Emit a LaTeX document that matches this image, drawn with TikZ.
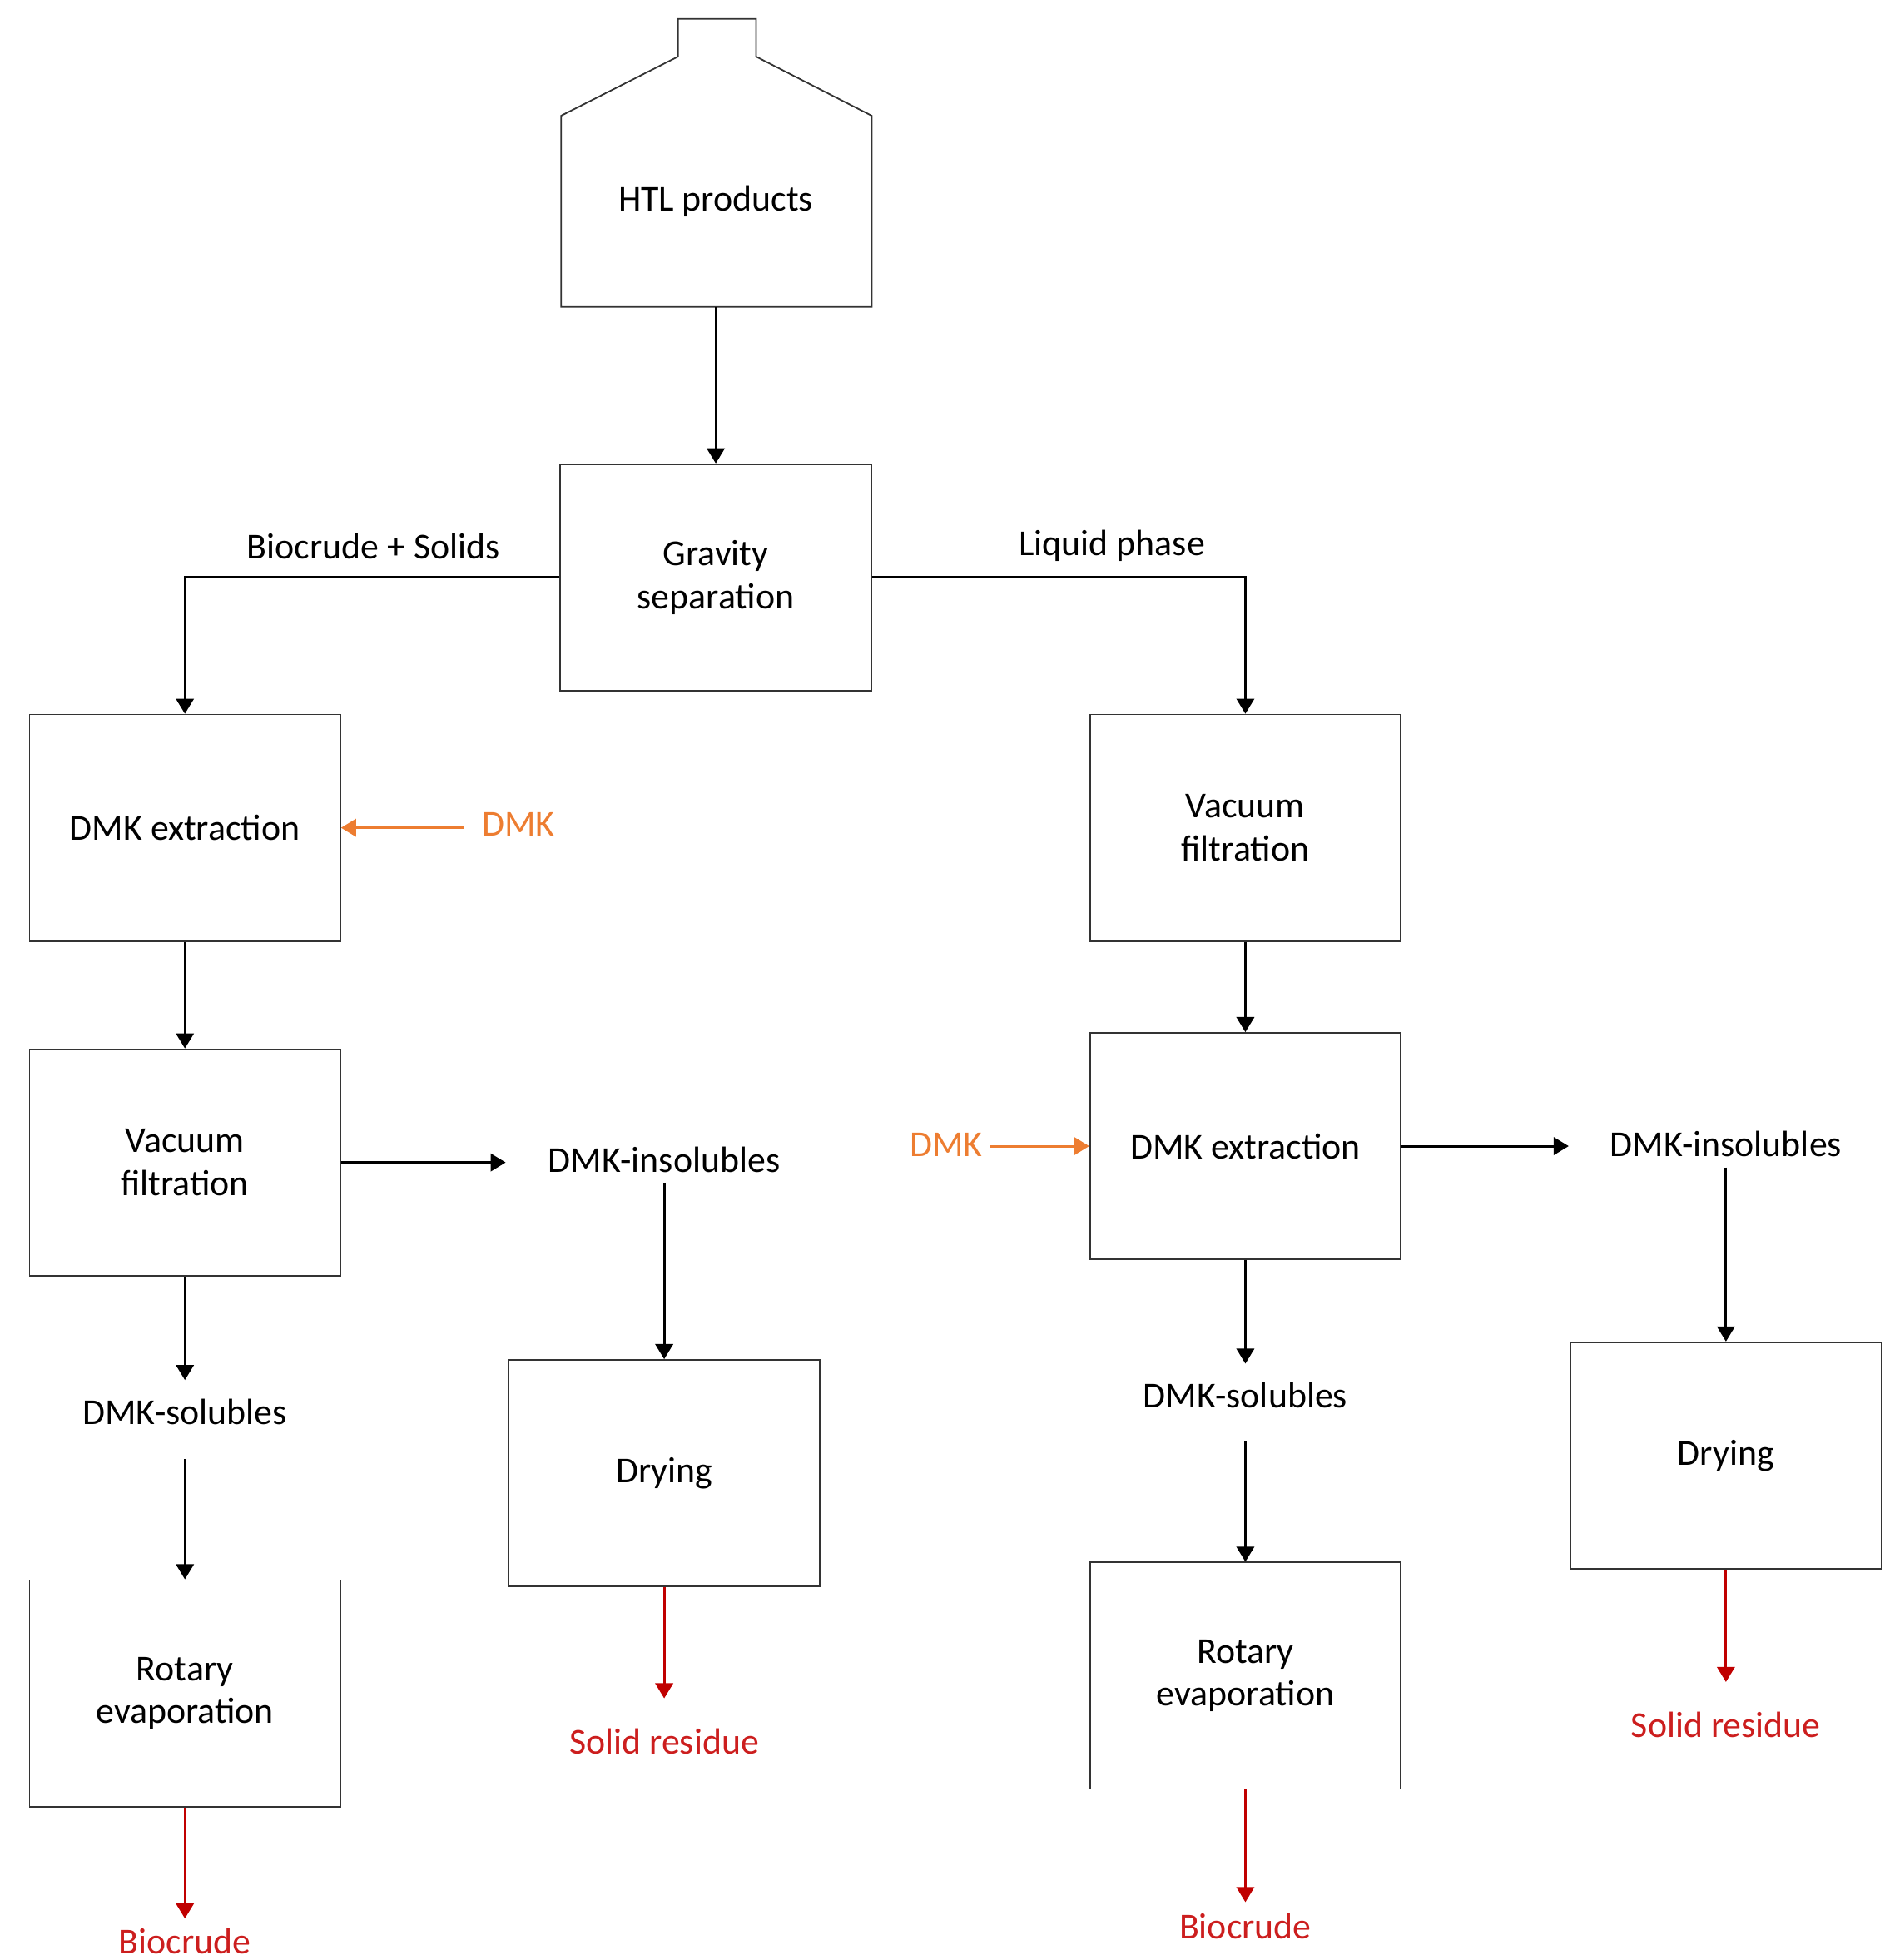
\documentclass[tikz,border=0pt]{standalone}
\usepackage{fontspec}
\setmainfont{Carlito}
\usetikzlibrary{arrows.meta}
\definecolor{dred}{RGB}{192,0,0}
\definecolor{rtxt}{RGB}{204,30,30}
\definecolor{org}{RGB}{237,125,49}
\begin{document}
\begin{tikzpicture}[x=0.5pt,y=-0.5pt,font=\fontsize{14.5}{17}\selectfont,
 box/.style={draw=black!80,line width=0.6pt,minimum width=123.5pt,minimum height=90pt,align=center,inner sep=2pt},
 lab/.style={inner sep=1pt,align=center},
 arr/.style={-{Triangle[length=6pt,width=7pt]},line width=1pt},
 rarr/.style={arr,dred},
 oarr/.style={arr,org}]
\useasboundingbox (0,0) rectangle (1502,1558);
\draw[black!80,line width=0.6pt] (446,244) -- (446,92) -- (539,45) -- (539,15) -- (601,15) -- (601,45) -- (693,92) -- (693,244) -- cycle;
\node[lab] (htl) at (569,160) {HTL products};
\coordinate (htlb) at (569,244);
\node[box] (grav) at (569,459) {Gravity\\separation};
\node[box] (dmkL) at (147,658) {DMK extraction};
\node[box] (vacL) at (147,924) {Vacuum\\filtration};
\node[lab] (solL) at (147,1122) {DMK-solubles};
\node[box] (rotL) at (147,1346) {Rotary\\evaporation};
\node[lab,rtxt] (bioL) at (147,1543) {Biocrude};
\node[lab] (insL) at (528,922) {DMK-insolubles};
\node[box] (dryL) at (528,1171) {Drying};
\node[lab,rtxt] (resL) at (528,1384) {Solid residue};
\node[box] (vacR) at (990,658) {Vacuum\\filtration};
\node[box] (dmkR) at (990,911) {DMK extraction};
\node[lab] (solR) at (990,1109) {DMK-solubles};
\node[box] (rotR) at (990,1332) {Rotary\\evaporation};
\node[lab,rtxt] (bioR) at (990,1531) {Biocrude};
\node[lab] (insR) at (1372,909) {DMK-insolubles};
\node[box] (dryR) at (1372,1157) {Drying};
\node[lab,rtxt] (resR) at (1372,1371) {Solid residue};
\node[lab,org] (dmkinL) at (412,655) {DMK};
\node[lab,org] (dmkinR) at (752,910) {DMK};
\node[lab] at (297,434) {Biocrude + Solids};
\node[lab] at (884,434) {Liquid phase};
\draw[arr] (htlb) -- (grav);
\draw[arr] (grav.west) -| (dmkL.north);
\draw[arr] (grav.east) -| (vacR.north);
\draw[arr] (dmkL) -- (vacL);
\draw[arr] (vacL.east) -- (402,924) coordinate (a1);
\draw[arr] (vacL) -- (147,1097);
\draw[arr] (147,1160) -- (rotL);
\draw[rarr] (rotL) -- (147,1525);
\draw[arr] (528,940) -- (dryL);
\draw[rarr] (dryL) -- (528,1350);
\draw[oarr] (369,658) -- (dmkL.east);
\draw[oarr] (787,911) -- (dmkR.west);
\draw[arr] (vacR) -- (dmkR);
\draw[arr] (dmkR.east) -- (1247,911);
\draw[arr] (dmkR) -- (990,1084);
\draw[arr] (990,1146) -- (rotR);
\draw[rarr] (rotR) -- (990,1512);
\draw[arr] (1372,928) -- (dryR);
\draw[rarr] (dryR) -- (1372,1337);
\end{tikzpicture}
\end{document}
